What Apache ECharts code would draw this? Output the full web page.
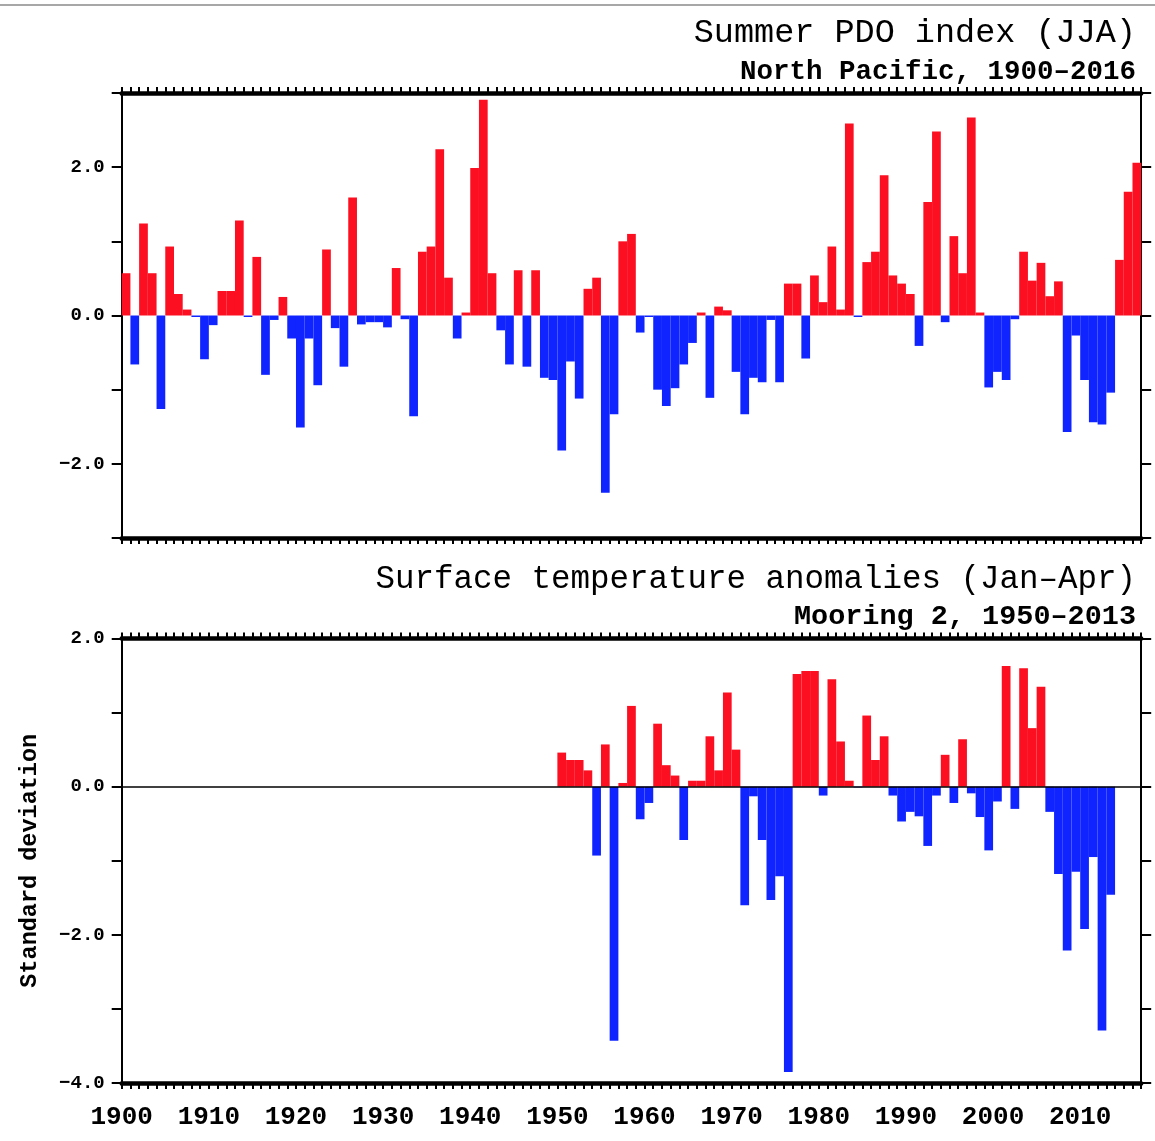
<!DOCTYPE html>
<html><head><meta charset="utf-8">
<script src="https://cdn.jsdelivr.net/npm/echarts/dist/echarts.min.js"></script>
<style>html,body{margin:0;padding:0;background:#fff}#c{width:1155px;height:1141px}</style>
</head><body><div id="c"></div><script>
// ---------- data ----------
const pdoStartYear = 1900;
const pdoValues = [
  0.57,-0.66,1.24,0.57,-1.26,0.93,0.29,0.08,-0.02,-0.59,
  -0.13,0.33,0.33,1.28,-0.02,0.79,-0.80,-0.06,0.25,-0.31,
  -1.51,-0.31,-0.94,0.89,-0.17,-0.69,1.59,-0.12,-0.09,-0.09,
  -0.16,0.64,-0.05,-1.36,0.86,0.93,2.24,0.51,-0.31,0.04,
  1.99,2.91,0.57,-0.20,-0.66,0.61,-0.69,0.61,-0.84,-0.87,
  -1.82,-0.62,-1.12,0.36,0.51,-2.39,-1.33,1.00,1.10,-0.23,
  -0.02,-1.00,-1.22,-0.98,-0.66,-0.37,0.04,-1.11,0.12,0.07,
  -0.76,-1.33,-0.84,-0.90,-0.06,-0.90,0.43,0.43,-0.58,0.54,
  0.18,0.93,0.08,2.59,-0.02,0.72,0.86,1.89,0.54,0.43,
  0.29,-0.41,1.53,2.48,-0.09,1.07,0.57,2.67,0.04,-0.97,
  -0.76,-0.87,-0.05,0.86,0.47,0.71,0.26,0.46,-1.57,-0.27,
  -0.87,-1.44,-1.47,-1.04,0.75,1.67,2.06
];
const tempStartYear = 1950;
const tempValues = [
  0.46,0.36,0.36,0.22,-0.93,0.57,-3.43,0.05,1.09,-0.44,
  -0.22,0.85,0.29,0.15,-0.72,0.08,0.08,0.68,0.22,1.27,
  0.50,-1.60,-0.13,-0.72,-1.53,-1.21,-3.85,1.52,1.56,1.56,
  -0.12,1.45,0.61,0.08,-0.01,0.96,0.36,0.68,-0.12,-0.47,
  -0.34,-0.40,-0.80,-0.12,0.43,-0.22,0.64,-0.09,-0.41,-0.86,
  -0.20,1.63,-0.30,1.60,0.79,1.35,-0.34,-1.18,-2.21,-1.15,
  -1.92,-0.95,-3.29,-1.46
];
const yearMin = 1900, yearMax = 2017;
const topTitle = 'Summer PDO index (JJA)';
const topSubtitle = 'North Pacific, 1900\u20132016';
const bottomTitle = 'Surface temperature anomalies (Jan\u2013Apr)';
const bottomSubtitle = 'Mooring 2, 1950\u20132013';
const yName = 'Standard deviation';

// ---------- styling ----------
const RED = '#fb0f20', BLUE = '#0f24ff';
const FONT = 'Liberation Mono';
const toPairs = (start, vals) => vals.map((v, i) => [start + i + 0.5, v]);
const fmtY = v => (Math.round(v) % 2 === 0) ? (v < 0 ? '\u2212' : '') + Math.abs(v).toFixed(1) : '';

function xAxisDef(gridIndex, position, showLabels) {
  return {
    type: 'value', gridIndex, position, min: yearMin, max: yearMax, interval: 1,
    axisLine: { show: true, onZero: false, lineStyle: { color: '#000', width: 4.5 } },
    axisTick: { show: true, inside: false, length: 6, lineStyle: { color: '#000', width: 2 } },
    splitLine: { show: false },
    axisLabel: showLabels ? {
      show: true, margin: 21, color: '#000', fontFamily: FONT, fontSize: 26, fontWeight: 'bold',
      formatter: v => (v % 10 === 0 ? String(v) : '')
    } : { show: false }
  };
}
function yAxisDef(gridIndex, position, min, max, showLabels, name) {
  const d = {
    type: 'value', gridIndex, position, min, max, interval: 1,
    axisLine: { show: true, onZero: false, lineStyle: { color: '#000', width: 2 } },
    axisTick: { show: true, inside: false, length: 10, lineStyle: { color: '#000', width: 2 } },
    splitLine: { show: false },
    axisLabel: showLabels ? { show: true, margin: 17, color: '#000', fontFamily: FONT, fontSize: 19, fontWeight: 'bold', formatter: fmtY } : { show: false }
  };
  if (name) {
    d.name = name; d.nameLocation = 'middle'; d.nameGap = 80;
    d.nameTextStyle = { color: '#000', fontFamily: FONT, fontSize: 23.5, fontWeight: 'bold' };
  }
  return d;
}
const colorFn = p => (p.value[1] >= 0 ? RED : BLUE);

const chart = echarts.init(document.getElementById('c'), null, { renderer: 'canvas' });
chart.setOption({
  backgroundColor: '#fff',
  animation: false,
  title: [
    { text: topTitle, right: 14, top: 11, textStyle: { fontFamily: FONT, fontSize: 33.5, fontWeight: 'normal', color: '#000' } },
    { text: topSubtitle, right: 14, top: 53, textStyle: { fontFamily: FONT, fontSize: 27.5, fontWeight: 'bold', color: '#000' } },
    { text: bottomTitle, right: 14, top: 558, textStyle: { fontFamily: FONT, fontSize: 32.5, fontWeight: 'normal', color: '#000' } },
    { text: bottomSubtitle, right: 14, top: 597, textStyle: { fontFamily: FONT, fontSize: 28.5, fontWeight: 'bold', color: '#000' } }
  ],
  graphic: [{ type: 'line', shape: { x1: 0, y1: 5, x2: 1155, y2: 5 }, style: { stroke: '#8a8a8a', lineWidth: 1.5 } }],
  grid: [
    { left: 121.7, top: 93, width: 1019.5, height: 445, containLabel: false },
    { left: 121.7, top: 638.5, width: 1019.5, height: 444.5, containLabel: false }
  ],
  xAxis: [
    xAxisDef(0, 'bottom', false),
    xAxisDef(0, 'top', false),
    xAxisDef(1, 'bottom', true),
    xAxisDef(1, 'top', false)
  ],
  yAxis: [
    yAxisDef(0, 'left', -3, 3, true),
    yAxisDef(0, 'right', -3, 3, false),
    yAxisDef(1, 'left', -4, 2, true, yName),
    yAxisDef(1, 'right', -4, 2, false)
  ],
  series: [
    {
      type: 'bar', xAxisIndex: 0, yAxisIndex: 0, data: toPairs(pdoStartYear, pdoValues),
      barWidth: '100%', itemStyle: { color: colorFn }, silent: true
    },
    {
      type: 'bar', xAxisIndex: 2, yAxisIndex: 2, data: toPairs(tempStartYear, tempValues),
      barWidth: '100%', itemStyle: { color: colorFn }, silent: true,
      markLine: {
        silent: true, symbol: 'none', label: { show: false },
        lineStyle: { color: '#000', width: 1.5, type: 'solid' },
        data: [{ yAxis: 0 }]
      }
    }
  ]
});
</script></body></html>
